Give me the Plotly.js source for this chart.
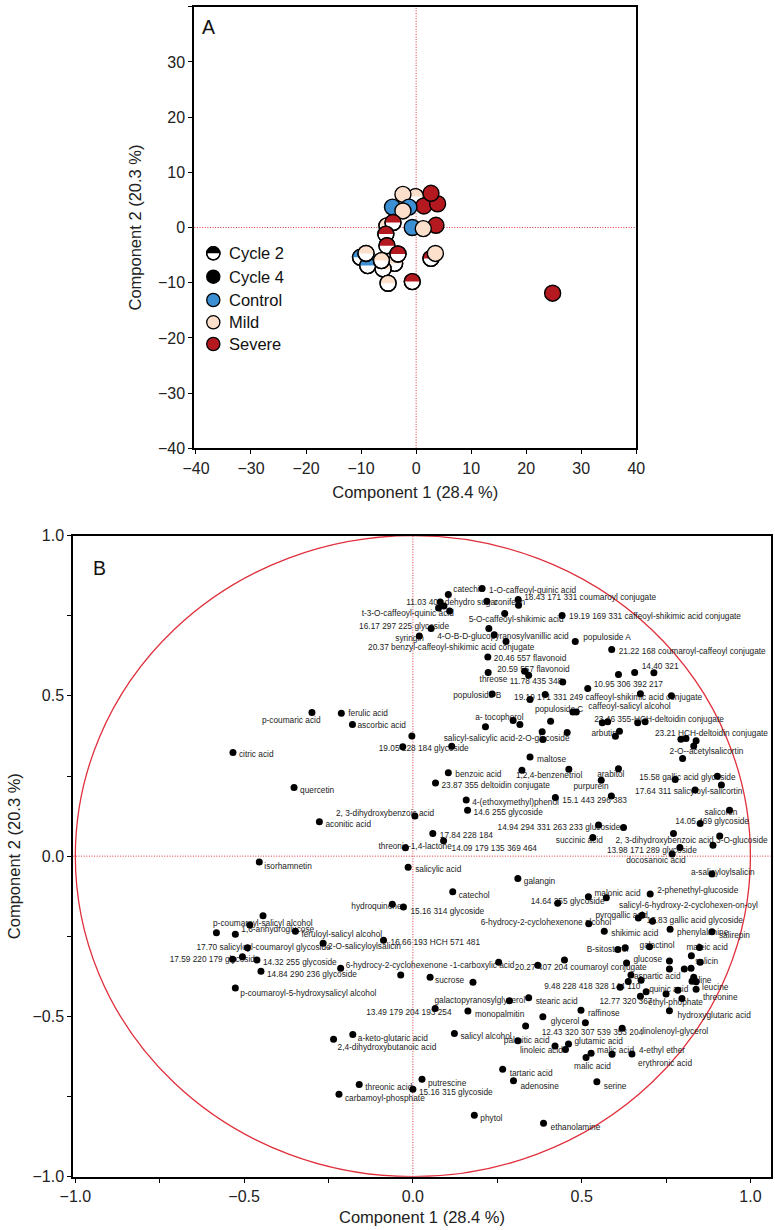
<!DOCTYPE html>
<html><head><meta charset="utf-8">
<script src="https://cdn.plot.ly/plotly-3.0.1.min.js"></script>
<style>body{margin:0;background:#fff}#chart{width:775px;height:1230px}</style>
</head><body><div id="chart"></div>
<script>
// ---------- Panel A: scores ----------
const scoreX = [-0.1, -2.4, 1.4, 3.9, 2.7, -1.3, -4.3, -2.4, -5.3, -4.2, 3.6, -0.7, 1.3, -5.5, -5.3, -3.9, -6.0, -10.1, -8.8, -9.1, -6.3, -3.3, -5.1, -0.7, 2.7, 3.5, 24.8];
const scoreY = [5.6, 6.0, 3.9, 4.3, 6.2, 3.7, 3.7, 3.0, 0.3, 0.9, 0.4, 0.0, -0.2, -1.2, -3.3, -6.5, -7.5, -5.4, -6.9, -4.7, -6.0, -4.8, -10.1, -9.8, -5.6, -4.7, -11.9];
const scoreGroup = ['Mild','Mild','Severe','Severe','Severe','Control','Control','Mild','Mild','Severe','Severe','Control','Mild','Severe','Severe','Mild','Mild','Control','Control','Mild','Mild','Severe','Mild','Severe','Severe','Mild','Severe'];
const scoreCycle = [2,4,4,4,4,4,4,4,2,2,4,4,4,2,2,2,2,2,2,2,2,2,2,2,2,4,4];
const legendLabels = ['Cycle 2','Cycle 4','Control','Mild','Severe'];
const ticksA = [-40,-30,-20,-10,0,10,20,30,40];

// ---------- Panel B: loadings ----------
const loadName = [
'catechin','1-O-caffeoyl-quinic acid','18.43 171 331 coumaroyl conjugate','coniferin','','11.03 405 dehydro sugar','t-3-O-caffeoyl-quinic acid','','','16.17 297 225 glycoside',
'syringin','5-O-caffeoyl-shikimic acid','19.19 169 331 caffeoyl-shikimic acid conjugate','4-O-B-D-glucopyranosylvanillic acid','','20.37 benzyl-caffeoyl-shikimic acid conjugate','populoside A','21.22 168 coumaroyl-caffeoyl conjugate','20.46 557 flavonoid','20.59 557 flavonoid',
'threose','','11.78 435 348','14.40 321','','','10.95 306 392 217','19.19 171 331 249 caffeoyl-shikimic acid conjugate','','',
'','populoside C','caffeoyl-salicyl alcohol','populoside B','a- tocopherol','','','salicyl-salicylic acid-2-O-glucoside','19.05 228 184 glycoside','',
'','','','arbutin','','ferulic acid','ascorbic acid','','23.46 355-HCH-deltoidin conjugate','',
'','','23.21 HCH-deltoidin conjugate','','','','2-O--acetylsalicortin','maltose','p-coumaric acid','citric acid',
'benzoic acid','1,2,4-benzenetriol','23.87 355 deltoidin conjugate','4-(ethoxymethyl)phenol','14.6 255 glycoside','quercetin','2, 3-dihydroxybenzoic acid','aconitic acid','14.94 294 331 263 233 glucoside','',
'17.84 228 184','14.09 179 135 369 464','threonic-1,4-lactone','salicylic acid','galangin','isorhamnetin','catechol','hydroquinone','15.16 314 glycoside','14.64 255 glycoside',
'malonic acid','','2-phenethyl-glucoside','a-salicyloylsalicin','docosanoic acid','13.98 171 289 glycoside','2, 3-dihydroxybenzoic acid 3-O-glucoside','','','succinic acid',
'14.05 469 glycoside','salicortin','17.64 311 salicyloyl-salicortin','15.58 gallic acid glycoside','','','arabitol','purpurein','15.1 443 296 383','',
'','salicyl-6-hydroxy-2-cyclohexen-on-oyl','pyrogallic acid','15.83 gallic acid glycoside','phenylalanine','6-hydrocy-2-cyclohexenone alcohol','shikimic acid','salirepin','B-sitosterol','',
'galactinol','maleic acid','salicin','','glucose','','','','','20.27 407 204 coumaroyl conjugate',
'','','6-hydrocy-2-cyclohexenone -1-carboxylic acid','14.84 290 236 glycoside','14.32 255 glycoside','17.59 220 179 glycoside','','17.70 salicyloyl-coumaroyl glycoside','2-O-salicyloylsalicin','p-coumaroyl-salicyl alcohol',
'1,6-anhydroglucose','','','feruloyl-salicyl alcohol','16.66 193 HCH 571 481','p-coumaroyl-5-hydroxysalicyl alcohol','sucrose','','','galactopyranosylglycerol',
'stearic acid','13.49 179 204 193 254','monopalmitin','a-keto-glutaric acid','2,4-dihydroxybutanoic acid','salicyl alcohol','palmitic acid','linoleic acid','glutamic acid','',
'glycerol','','12.43 320 307 539 353 204','linolenoyl-glycerol','malic acid','malic acid','4-ethyl ether','erythronic acid','serine','tartaric acid',
'adenosine','ethanolamine','phytol','putrescine','15.16 315 glycoside','threonic acid','carbamoyl-phosphate','raffinose','hydroxyglutaric acid','aspartic acid',
'','','valine','','','leucine','threonine','','ethyl-phophate','quinic acid',
'12.77 320 367','9.48 228 418 328 144 110'
];
const loadX = [
0.105,0.205,0.312,0.219,0.313,0.081,0.109,0.076,0.092,0.054,
0.019,0.272,0.442,0.241,0.225,0.276,0.481,0.589,0.222,0.223,
0.331,0.343,0.444,0.657,0.609,0.714,0.518,0.347,0.392,0.674,
0.766,0.474,0.484,0.235,0.297,0.317,0.215,0.115,-0.030,0.385,
0.383,0.457,0.408,0.600,0.612,-0.212,-0.179,-0.003,0.561,0.577,
0.666,0.688,0.794,0.809,0.839,0.832,0.799,0.347,-0.299,-0.533,
0.105,0.323,0.067,0.158,0.162,-0.352,0.006,-0.277,0.550,0.624,
0.059,0.091,-0.022,-0.014,0.311,-0.455,0.118,-0.061,-0.028,0.429,
0.520,0.573,0.703,0.886,0.768,0.791,0.772,0.889,0.909,0.533,
0.851,0.938,0.836,0.777,0.902,0.914,0.558,0.609,0.422,0.588,
0.462,0.679,0.668,0.710,0.762,0.521,0.567,0.886,0.607,0.629,
0.701,0.849,0.851,0.825,0.760,0.760,0.804,0.824,0.633,0.370,
0.449,0.254,-0.214,-0.450,-0.462,-0.534,-0.505,-0.490,-0.266,-0.444,
-0.526,-0.483,-0.582,-0.348,-0.087,-0.526,0.051,-0.036,0.178,0.286,
0.343,0.066,0.163,-0.178,-0.235,0.123,0.311,0.421,0.461,0.452,
0.385,0.511,0.334,0.620,0.528,0.513,0.649,0.590,0.545,0.266,
0.298,0.387,0.182,0.027,0.000,-0.159,-0.219,0.498,0.760,0.646,
0.638,0.676,0.832,0.839,0.827,0.839,0.797,0.785,0.750,0.691,
0.674,0.614
];
const loadY = [
0.816,0.835,0.801,0.795,0.783,0.793,0.765,0.774,0.780,0.710,
0.687,0.757,0.751,0.691,0.710,0.670,0.670,0.645,0.621,0.573,
0.577,0.564,0.543,0.573,0.567,0.572,0.523,0.489,0.504,0.507,
0.500,0.450,0.450,0.506,0.423,0.411,0.404,0.343,0.341,0.364,
0.388,0.386,0.421,0.374,0.390,0.446,0.411,0.375,0.416,0.419,
0.416,0.419,0.365,0.367,0.360,0.344,0.305,0.309,0.448,0.323,
0.260,0.268,0.228,0.175,0.143,0.214,0.125,0.107,0.097,0.089,
0.071,0.048,0.026,-0.035,-0.070,-0.018,-0.111,-0.150,-0.159,-0.147,
-0.127,-0.130,-0.118,-0.056,0.007,0.027,0.071,0.034,0.063,0.058,
0.102,0.143,0.206,0.239,0.249,0.222,0.237,0.273,0.183,0.188,
0.271,-0.184,-0.193,-0.203,-0.228,-0.211,-0.234,-0.236,-0.291,-0.286,
-0.283,-0.285,-0.331,-0.311,-0.327,-0.352,-0.352,-0.350,-0.333,-0.340,
-0.324,-0.331,-0.350,-0.359,-0.324,-0.322,-0.314,-0.286,-0.272,-0.186,
-0.244,-0.215,-0.239,-0.234,-0.262,-0.411,-0.378,-0.371,-0.393,-0.451,
-0.442,-0.475,-0.483,-0.556,-0.571,-0.553,-0.576,-0.592,-0.586,-0.603,
-0.501,-0.520,-0.530,-0.537,-0.615,-0.628,-0.617,-0.618,-0.704,-0.665,
-0.701,-0.833,-0.808,-0.696,-0.727,-0.712,-0.743,-0.481,-0.482,-0.371,
-0.391,-0.387,-0.378,-0.392,-0.390,-0.415,-0.444,-0.418,-0.430,-0.423,
-0.437,-0.409
];
// label placement (pixels from the dot: [right, down]) — layout only
const labelShift = [
[5,-5],[7,2],[6,-1],[7,2],[0,0],[-34,1],[-88,3],[0,0],[0,0],[-72,-2],
[-24,3],[-36,6],[7,2],[-57,2],[0,0],[-138,7],[8,-3],[7,3],[6,2],[9,-3],
[-45,9],[0,0],[-53,0],[7,-6],[0,0],[0,0],[6,-4],[-16,-1],[0,0],[0,0],
[0,0],[-38,-2],[12,-5],[-39,2],[-38,-3],[0,0],[0,0],[-8,-7],[-24,2],[0,0],
[0,0],[0,0],[0,0],[-24,-2],[0,0],[7,1],[5,2],[0,0],[-8,-3],[0,0],
[0,0],[0,0],[-26,-5],[0,0],[0,0],[0,0],[-13,-6],[7,3],[-50,8],[6,2],
[7,2.5],[-6,6],[6,3],[6,3],[6,3],[6,3],[-79,-2],[6,3],[-101,3],[0,0],
[7,3],[8,8],[-27,-1],[7,3],[6,3],[5,5],[6,4],[-41,3],[7,5],[-27,-1],
[6,-3],[0,0],[7,-3],[-21,-1],[-46,7],[-73,3],[-58,8],[0,0],[0,0],[-37,3],
[-25,-2],[-25,3],[-60,2],[-36,-2],[0,0],[0,0],[-4,-5],[-45,18],[7,3],[0,0],
[0,0],[-23,-9],[-43,-2],[-6,0],[7,4],[-108,-1],[7,3],[7,4],[-31,0],[0,0],
[-10,-1],[-13,0],[-5,0],[0,0],[-36,-1],[0,0],[0,0],[0,0],[0,0],[-23,3],
[0,0],[0,0],[5,-2],[6,4],[6,3],[-63,1],[0,0],[-51,0],[5,4],[-50,8],
[6,-4],[0,0],[0,0],[6,4],[7,3],[5,6],[5,4],[0,0],[0,0],[-75,0],
[7,4],[-69,5],[7,4],[5,5],[4,9],[6,4],[-14,0],[-35,5],[6,-2],[0,0],
[8,5],[0,0],[16,7],[20,4],[6,-2],[-12,9],[7,-3],[26,10],[7,5],[7,5],
[7,6],[7,5],[6,4],[6,5],[6,4],[6,4],[6,5],[7,4],[8,5],[3,2],
[0,0],[0,0],[-4,4],[0,0],[0,0],[6,-1],[21,-1],[0,0],[-18,9],[3,-2],
[-41,6],[-76,0]
];
const ticksB = [-1,-0.75,-0.5,-0.25,0,0.25,0.5,0.75,1];
const tickTextB = ['\u22121.0','','\u22120.5','','0.0','','0.5','','1.0'];

// ---------- geometry / style ----------
const W = 775, H = 1230;
const FONT = '"Liberation Sans", Arial, Helvetica, sans-serif';
const boxA = {l:194.3, r:636.3, t:6.7, b:448.3};
const boxB = {l:73.3, r:770.7, t:535.6, b:1176.7};
const rangeAx = [-40.3, 40], rangeAy = [-40, 40];
const rangeBx = [-1.006, 1.06], rangeBy = [-1, 1];
const dom = b => ({x:[b.l/W, b.r/W], y:[1-b.b/H, 1-b.t/H]});
const dA = dom(boxA), dB = dom(boxB);
const pxAx = (boxA.r-boxA.l)/(rangeAx[1]-rangeAx[0]);
const pxAy = (boxA.b-boxA.t)/(rangeAy[1]-rangeAy[0]);
const pxBx = (boxB.r-boxB.l)/(rangeBx[1]-rangeBx[0]);
const pxBy = (boxB.b-boxB.t)/(rangeBy[1]-rangeBy[0]);
const groupColor = {Control:'#3b8fd2', Mild:'#fde0cc', Severe:'#b3191f'};
const RED = '#d9323e';
const R = 8;

const traces = [];
scoreX.forEach((x, i) => {
  const y = scoreY[i], col = groupColor[scoreGroup[i]];
  const base = {type:'scatter', xaxis:'x', yaxis:'y', hoverinfo:'skip', showlegend:false};
  if (scoreCycle[i] === 4) {
    traces.push(Object.assign({}, base, {x:[x], y:[y], mode:'markers',
      marker:{size:2*R, color:col, line:{color:'#000', width:1.4}}}));
  } else {
    traces.push(Object.assign({}, base, {x:[x], y:[y], mode:'markers',
      marker:{size:2*R, color:'#ffffff', line:{color:'#000', width:1.4}}}));
    const hx = [], hy = [];
    for (let k = 0; k <= 40; k++) {
      const t = Math.PI * k / 40;
      hx.push(x + R * Math.cos(t) / pxAx);
      hy.push(y + R * Math.sin(t) / pxAy);
    }
    traces.push(Object.assign({}, base, {x:hx, y:hy, mode:'lines', fill:'toself',
      fillcolor:col, line:{width:0, color:col}}));
    traces.push(Object.assign({}, base, {x:[x], y:[y], mode:'markers',
      marker:{size:2*R, color:'rgba(0,0,0,0)', line:{color:'#000', width:1.4}}}));
  }
});

traces.push({type:'scatter', xaxis:'x2', yaxis:'y2', mode:'text',
  x: loadX.map((v, i) => v + labelShift[i][0] / pxBx),
  y: loadY.map((v, i) => v - labelShift[i][1] / pxBy),
  text: loadName, textposition:'middle right', cliponaxis:false,
  textfont:{family:FONT, size:8.3, color:'#222'}, hoverinfo:'skip', showlegend:false});
traces.push({type:'scatter', xaxis:'x2', yaxis:'y2', mode:'markers',
  x: loadX, y: loadY, text: loadName, hoverinfo:'text',
  marker:{size:7, color:'#000'}, showlegend:false});

// ---------- shapes ----------
const dotted = {color:RED, width:1, dash:'1px,1.6px'};
const shapes = [
  {type:'line', xref:'x', yref:'y domain', x0:0, x1:0, y0:0, y1:1, line:dotted, layer:'below'},
  {type:'line', xref:'x domain', yref:'y', x0:0, x1:1, y0:0, y1:0, line:dotted, layer:'below'},
  {type:'line', xref:'x2', yref:'y2 domain', x0:0, x1:0, y0:0, y1:1, line:dotted, layer:'below'},
  {type:'line', xref:'x2 domain', yref:'y2', x0:0, x1:1, y0:0, y1:0, line:dotted, layer:'below'},
  {type:'circle', xref:'x2', yref:'y2', x0:-1, x1:1, y0:-1, y1:1, line:{color:'#e0303c', width:1.3}, layer:'below'}
];
// custom legend for panel A
const legX = 213.3 / W, legTextX = 227.3 / W;
const legRows = [253.3, 276.7, 300, 322.3, 344];
const legFill = ['#ffffff', '#000000', groupColor.Control, groupColor.Mild, groupColor.Severe];
const lr = 6.6, kk = 0.5523 * lr;
const annotations = [];
legendLabels.forEach((lab, i) => {
  const ya = 1 - legRows[i] / H;
  const pix = {xref:'paper', yref:'paper', xsizemode:'pixel', ysizemode:'pixel', xanchor:legX, yanchor:ya, layer:'above'};
  shapes.push(Object.assign({}, pix, {type:'circle', x0:-lr, x1:lr, y0:-lr, y1:lr,
    fillcolor:legFill[i], line:{color:'#000', width:1.3}}));
  if (i === 0) {
    shapes.push(Object.assign({}, pix, {type:'path',
      path:`M ${-lr},0 C ${-lr},${kk} ${-kk},${lr} 0,${lr} C ${kk},${lr} ${lr},${kk} ${lr},0 Z`,
      fillcolor:'#000', line:{width:0}}));
    shapes.push(Object.assign({}, pix, {type:'circle', x0:-lr, x1:lr, y0:-lr, y1:lr,
      fillcolor:'rgba(0,0,0,0)', line:{color:'#000', width:1.3}}));
  }
  annotations.push({xref:'paper', yref:'paper', x:legTextX, y:ya, xanchor:'left', yanchor:'middle',
    text:lab, showarrow:false, font:{family:FONT, size:16.5, color:'#111'}});
});
annotations.push({xref:'paper', yref:'paper', x:208/W, y:1-27/H, xanchor:'center', yanchor:'middle',
  text:'A', showarrow:false, font:{family:FONT, size:19.5, color:'#111'}});
annotations.push({xref:'paper', yref:'paper', x:99/W, y:1-568/H, xanchor:'center', yanchor:'middle',
  text:'B', showarrow:false, font:{family:FONT, size:19.5, color:'#111'}});

// ---------- axes ----------
const axisBase = {showline:true, linewidth:2, linecolor:'#000', mirror:true, ticks:'outside',
  ticklen:4, tickwidth:1, tickcolor:'#000', showgrid:false, zeroline:false, automargin:false,
  tickfont:{family:FONT, size:16, color:'#222'}, fixedrange:true};
const titleFont = {family:FONT, size:16.5, color:'#222'};

const layout = {
  width:W, height:H, margin:{l:0, r:0, t:0, b:0}, paper_bgcolor:'#fff', plot_bgcolor:'#fff',
  showlegend:false, font:{family:FONT},
  xaxis: Object.assign({}, axisBase, {domain:dA.x, range:rangeAx, anchor:'y', tickmode:'array', tickvals:ticksA,
    title:{text:'Component 1 (28.4 %)', font:titleFont, standoff:11}}),
  yaxis: Object.assign({}, axisBase, {domain:dA.y, range:rangeAy, anchor:'x', tickmode:'array', tickvals:ticksA,
    title:{text:'Component 2 (20.3 %)', font:titleFont, standoff:12}}),
  xaxis2: Object.assign({}, axisBase, {domain:dB.x, range:rangeBx, anchor:'y2', tickmode:'array', tickvals:ticksB, ticktext:tickTextB,
    title:{text:'Component 1 (28.4 %)', font:titleFont, standoff:8}}),
  yaxis2: Object.assign({}, axisBase, {domain:dB.y, range:rangeBy, anchor:'x2', tickmode:'array', tickvals:ticksB,
    ticktext:tickTextB.slice(),
    title:{text:'Component 2 (20.3 %)', font:titleFont, standoff:8}}),
  shapes: shapes,
  annotations: annotations
};
Plotly.newPlot('chart', traces, layout, {staticPlot:true, displayModeBar:false});
</script></body></html>
